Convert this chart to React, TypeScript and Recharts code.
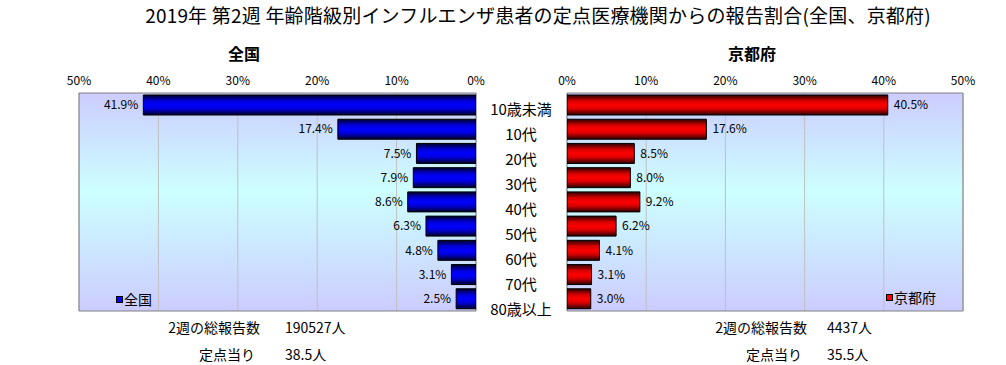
import React from "react";
import {
  BarChart,
  Bar,
  XAxis,
  YAxis,
  CartesianGrid,
  LabelList,
  ReferenceArea,
} from "recharts";

const categories = ["10歳未満", "10代", "20代", "30代", "40代", "50代", "60代", "70代", "80歳以上"];
const nationalValues = [41.9, 17.4, 7.5, 7.9, 8.6, 6.3, 4.8, 3.1, 2.5];
const kyotoValues = [40.5, 17.6, 8.5, 8.0, 9.2, 6.2, 4.1, 3.1, 3.0];
const percentTicks = [0, 10, 20, 30, 40, 50];

const titleText = "2019年 第2週 年齢階級別インフルエンザ患者の定点医療機関からの報告割合(全国、京都府)";
const leftTitle = "全国";
const rightTitle = "京都府";
const totalLabel = "2週の総報告数";
const perLabel = "定点当り";
const nationalTotal = "190527人";
const nationalPer = "38.5人";
const kyotoTotal = "4437人";
const kyotoPer = "35.5人";

const data = categories.map((c, i) => ({
  cat: c,
  national: nationalValues[i],
  kyoto: kyotoValues[i],
}));

const FONT = '"Noto Sans CJK JP", "DejaVu Sans", sans-serif';
const W = 1006;
const H = 365;

const fmt = (v: number) => `${v.toFixed(1)}%`;

const LeftLabel = (props: any) => {
  const { x, y, width, height, value } = props;
  const left = Math.min(x, x + width);
  return (
    <text
      x={left - 5}
      y={y + height / 2 + 1}
      textAnchor="end"
      dominantBaseline="middle"
      fontSize={12}
      fontFamily={FONT}
      fill="#000"
    >
      {fmt(value)}
    </text>
  );
};

const RightLabel = (props: any) => {
  const { x, y, width, height, value } = props;
  const right = Math.max(x, x + width);
  return (
    <text
      x={right + 6}
      y={y + height / 2 + 1}
      textAnchor="start"
      dominantBaseline="middle"
      fontSize={12}
      fontFamily={FONT}
      fill="#000"
    >
      {fmt(value)}
    </text>
  );
};

const CategoryTick = (props: any) => {
  const { x, y, payload, index } = props;
  return (
    <text
      x={x - 46}
      y={y + 5.5 + index * 0.85}
      textAnchor="middle"
      dominantBaseline="middle"
      fontSize={15}
      fontFamily={FONT}
      fill="#000"
    >
      {payload.value}
    </text>
  );
};

const tickStyle = { fontSize: 12, fontFamily: FONT, fill: "#000" };

const absText = (style: React.CSSProperties): React.CSSProperties => ({
  position: "absolute",
  whiteSpace: "nowrap",
  fontFamily: FONT,
  color: "#000",
  ...style,
});

const Defs = () => (
  <defs>
    <linearGradient id="bgGrad" x1="0" y1="0" x2="0" y2="1">
      <stop offset="0%" stopColor="#ccccff" />
      <stop offset="45%" stopColor="#ccffff" />
      <stop offset="100%" stopColor="#ccccff" />
    </linearGradient>
    <linearGradient id="blueGrad" x1="0" y1="0" x2="0" y2="1">
      <stop offset="0%" stopColor="#000028" />
      <stop offset="30%" stopColor="#0000d8" />
      <stop offset="50%" stopColor="#0000ff" />
      <stop offset="70%" stopColor="#0000d8" />
      <stop offset="100%" stopColor="#000028" />
    </linearGradient>
    <linearGradient id="redGrad" x1="0" y1="0" x2="0" y2="1">
      <stop offset="0%" stopColor="#280000" />
      <stop offset="30%" stopColor="#d80000" />
      <stop offset="50%" stopColor="#ff0000" />
      <stop offset="70%" stopColor="#d80000" />
      <stop offset="100%" stopColor="#280000" />
    </linearGradient>
  </defs>
);

export default function App() {
  return (
    <div
      style={{
        position: "absolute",
        left: 0,
        top: 0,
        width: W,
        height: H,
        background: "#fff",
        overflow: "hidden",
        fontFamily: FONT,
      }}
    >
      {/* Left chart: 全国 */}
      <div style={{ position: "absolute", left: 0, top: 0 }}>
        <BarChart
          width={W}
          height={H}
          data={data}
          layout="vertical"
          margin={{ top: 73, right: 530, bottom: 54, left: 79 }}
        >
          <Defs />
          <CartesianGrid
            horizontal={false}
            stroke="#c0c0c0"
            fill="url(#bgGrad)"
            fillOpacity={1}
          />
          <XAxis
            type="number"
            orientation="top"
            domain={[0, 50]}
            ticks={percentTicks}
            reversed
            height={20}
            axisLine={false}
            tickLine={false}
            tickSize={6}
            tickMargin={2}
            tick={tickStyle}
            tickFormatter={(v: number) => `${v}%`}
            interval={0}
            allowDataOverflow
          />
          <YAxis type="category" dataKey="cat" hide />
          <ReferenceArea
            x1={0}
            x2={50}
            fill="none"
            fillOpacity={0}
            stroke="#808080"
            strokeWidth={1}
            ifOverflow="visible"
          />
          <Bar
            dataKey="national"
            fill="url(#blueGrad)"
            stroke="#000"
            strokeWidth={1}
            barSize={20}
            isAnimationActive={false}
          >
            <LabelList dataKey="national" content={<LeftLabel />} />
          </Bar>
        </BarChart>
      </div>

      {/* Right chart: 京都府 */}
      <div style={{ position: "absolute", left: 0, top: 0 }}>
        <BarChart
          width={W}
          height={H}
          data={data}
          layout="vertical"
          margin={{ top: 73, right: 43, bottom: 54, left: 477 }}
        >
          <Defs />
          <CartesianGrid
            horizontal={false}
            stroke="#c0c0c0"
            fill="url(#bgGrad)"
            fillOpacity={1}
          />
          <XAxis
            type="number"
            orientation="top"
            domain={[0, 50]}
            ticks={percentTicks}
            height={20}
            axisLine={false}
            tickLine={false}
            tickSize={6}
            tickMargin={2}
            tick={tickStyle}
            tickFormatter={(v: number) => `${v}%`}
            interval={0}
            allowDataOverflow
          />
          <YAxis
            type="category"
            dataKey="cat"
            width={90}
            axisLine={false}
            tickLine={false}
            tickSize={0}
            tickMargin={0}
            interval={0}
            tick={<CategoryTick />}
          />
          <ReferenceArea
            x1={0}
            x2={50}
            fill="none"
            fillOpacity={0}
            stroke="#808080"
            strokeWidth={1}
            ifOverflow="visible"
          />
          <Bar
            dataKey="kyoto"
            fill="url(#redGrad)"
            stroke="#000"
            strokeWidth={1}
            barSize={20}
            isAnimationActive={false}
          >
            <LabelList dataKey="kyoto" content={<RightLabel />} />
          </Bar>
        </BarChart>
      </div>

      {/* Titles */}
      <div style={absText({ left: 0, width: 1076, top: 2, fontSize: 19, lineHeight: "26px", textAlign: "center", letterSpacing: "0.2px" })}>
        {titleText}
      </div>
      <div style={absText({ left: 194, width: 100, top: 42, fontSize: 16, lineHeight: "22px", textAlign: "center", fontWeight: 700 })}>
        {leftTitle}
      </div>
      <div style={absText({ left: 702, width: 100, top: 42, fontSize: 16, lineHeight: "22px", textAlign: "center", fontWeight: 700 })}>
        {rightTitle}
      </div>

      {/* Legends */}
      <div style={absText({ left: 116, top: 290, fontSize: 14, lineHeight: "18px", display: "flex", alignItems: "center" })}>
        <span style={{ display: "inline-block", width: 5, height: 5, background: "#0000ff", border: "1px solid #000", marginRight: 1 }} />
        {leftTitle}
      </div>
      <div style={absText({ left: 886, top: 288, fontSize: 14, lineHeight: "18px", display: "flex", alignItems: "center" })}>
        <span style={{ display: "inline-block", width: 5, height: 5, background: "#ff0000", border: "1px solid #000", marginRight: 1 }} />
        {rightTitle}
      </div>

      {/* Footer: 全国 */}
      <div style={absText({ left: 60, width: 200, top: 318, fontSize: 14, lineHeight: "18px", textAlign: "right" })}>
        {totalLabel}
      </div>
      <div style={absText({ left: 285, top: 318, fontSize: 14, lineHeight: "18px" })}>{nationalTotal}</div>
      <div style={absText({ left: 60, width: 195, top: 345, fontSize: 14, lineHeight: "18px", textAlign: "right" })}>
        {perLabel}
      </div>
      <div style={absText({ left: 285, top: 345, fontSize: 14, lineHeight: "18px" })}>{nationalPer}</div>

      {/* Footer: 京都府 */}
      <div style={absText({ left: 607, width: 200, top: 318, fontSize: 14, lineHeight: "18px", textAlign: "right" })}>
        {totalLabel}
      </div>
      <div style={absText({ left: 827, top: 318, fontSize: 14, lineHeight: "18px" })}>{kyotoTotal}</div>
      <div style={absText({ left: 607, width: 195, top: 345, fontSize: 14, lineHeight: "18px", textAlign: "right" })}>
        {perLabel}
      </div>
      <div style={absText({ left: 827, top: 345, fontSize: 14, lineHeight: "18px" })}>{kyotoPer}</div>
    </div>
  );
}
